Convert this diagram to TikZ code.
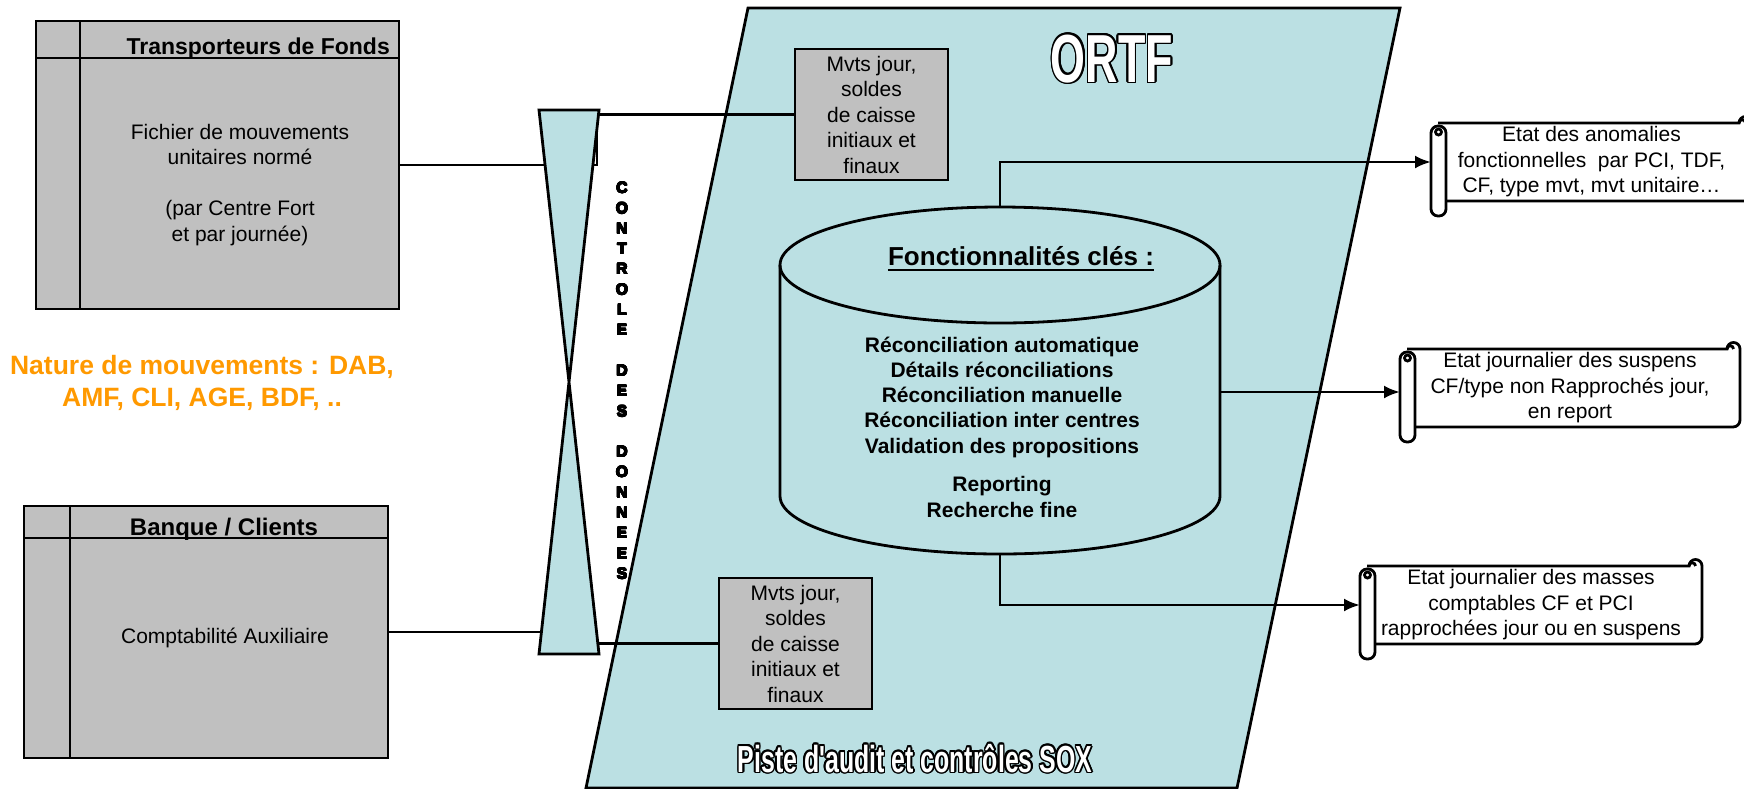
\documentclass[tikz,border=0pt]{standalone}
\usepackage{fontspec}
\setmainfont{Liberation Sans}
\newfontfamily\postfont[FakeStretch=0.66]{Liberation Sans}
\usepackage{contour}
\contourlength{1.5pt}
\usepackage{tikz}
\usetikzlibrary{calc}
\usetikzlibrary{backgrounds}
\usetikzlibrary{arrows.meta}
\tikzset{>={Latex[length=16pt,width=13pt]}}
\definecolor{ortfblue}{HTML}{BBE0E3}
\definecolor{boxgrey}{HTML}{C0C0C0}
\definecolor{natureorange}{HTML}{FF9900}

\newcommand{\bodyfont}{\fontsize{21}{25.5}\selectfont}
\newcommand{\titlefont}{\fontsize{24}{28}\selectfont\bfseries}
\newcommand{\hv}[1]{{\contourlength{0.55pt}\contour{black}{#1}}}

\tikzset{
  thickline/.style={line width=2.8pt},
  srcbox/.style={thickline, draw, fill=boxgrey, inner sep=0pt, outer sep=0pt},
  mvtsbox/.style={thickline, draw, fill=boxgrey, minimum width=153pt, minimum height=131pt,
    inner sep=0pt, outer sep=0pt, align=center, font=\bodyfont},
  bodytext/.style={align=center, inner sep=0pt, font=\bodyfont},
  titletext/.style={inner sep=0pt, font=\titlefont},
  scrolltext/.style={minimum height=78pt, inner sep=0pt, outer sep=0pt, align=center, font=\bodyfont},
}

% scroll outline drawn round a text node
\newcommand{\drawscroll}[1]{%
  \draw[thickline, fill=white] ($(#1.north west)+(7,0)$) -- ($(#1.north east)+(-13,0)$)
    arc[start angle=180, end angle=0, radius=6.5pt]
    -- ($(#1.south east)+(0,-7)$)
    arc[start angle=0, end angle=-90, radius=7pt]
    -- ($(#1.south west)+(7,0)$);
  \draw[thickline] ($(#1.north east)+(-6.5,0)$) arc[start angle=0, end angle=180, radius=3.25pt];
  \draw[thickline, fill=white, rounded corners=7pt] ($(#1.north west)+(0,3)$) rectangle ($(#1.south west)+(15,15)$);
  \draw[thickline] ($(#1.north west)+(7.5,9)$) circle[radius=3pt];
}

\begin{document}
\begin{tikzpicture}[x=1pt,y=-1pt]
\useasboundingbox (0,0) rectangle (1744,788);

% ORTF
\begin{scope}[on background layer]
  \draw[thickline, fill=ortfblue] (748,8) -- (1400,8) -- (1237,788) -- (586,788) -- cycle;
\end{scope}
\node[text=white, inner sep=0pt, anchor=base, font=\postfont\bfseries\fontsize{68}{72}\selectfont] (ortf) at (1112,82) {\contour{black}{ORTF}};
\node[text=white, inner sep=0pt, anchor=base, font=\postfont\bfseries\fontsize{37.7}{40}\selectfont] (piste) at (915,772) {\contour{black}{Piste d'audit et contrôles SOX}};

% sources
\node[srcbox, minimum width=363pt, minimum height=288pt] (tdf) at (217.5,165) {};
\draw[thickline] ([xshift=44pt]tdf.north west) -- ([xshift=44pt]tdf.south west);
\draw[thickline] ([yshift=-37pt]tdf.north west) -- ([yshift=-37pt]tdf.north east);
\node[titletext, anchor=base east, font=\fontsize{23}{28}\selectfont\bfseries] (tdftitle) at (390,54) {Transporteurs de Fonds};
\node[bodytext] (tdftext) at (240,185) {Fichier de mouvements\\unitaires normé\\[25.5pt](par Centre Fort\\et par journée)};

\node[srcbox, minimum width=364pt, minimum height=252pt] (bc) at (206,632) {};
\draw[thickline] ([xshift=46pt]bc.north west) -- ([xshift=46pt]bc.south west);
\draw[thickline] ([yshift=-32pt]bc.north west) -- ([yshift=-32pt]bc.north east);
\node[titletext, anchor=base] (bctitle) at (224,535) {Banque / Clients};
\node[bodytext, anchor=base] (bctext) at (225,643) {Comptabilité Auxiliaire};

\node[align=center, inner sep=0pt, text=natureorange, font=\fontsize{26.5}{32}\selectfont\bfseries] (nature) at (202,383) {Nature de mouvements : DAB,\\AMF, CLI, AGE, BDF, ..};

% controle des donnees
\coordinate (hgtl) at (539,110);
\coordinate (hgtr) at (599,110);
\coordinate (hgbl) at (539,654);
\coordinate (hgbr) at (599,654);
\coordinate (hgjoin) at (597,165);
\coordinate (hgjoinb) at (575,632);
\draw[thickline, fill=ortfblue] (hgtl) -- (hgtr) -- (hgbl) -- (hgbr) -- cycle;
\node[align=center, inner sep=0pt, font=\bfseries\fontsize{15.5}{20.3}\selectfont] (controle) at (622,381)
  {\hv{C}\\\hv{O}\\\hv{N}\\\hv{T}\\\hv{R}\\\hv{O}\\\hv{L}\\\hv{E}\\[20.3pt]\hv{D}\\\hv{E}\\\hv{S}\\[20.3pt]%
   \hv{D}\\\hv{O}\\\hv{N}\\\hv{N}\\\hv{E}\\\hv{E}\\\hv{S}};

\node[mvtsbox] (mvts1) at (871.5,114.5) {Mvts jour,\\soldes\\de caisse\\initiaux et\\finaux};
\node[mvtsbox] (mvts2) at (795.5,643.5) {Mvts jour,\\soldes\\de caisse\\initiaux et\\finaux};

% fonctionnalites
\draw[thickline, fill=ortfblue] (780,265) -- (780,496)
  arc[start angle=180, end angle=360, x radius=220pt, y radius=58pt] -- (1220,265)
  arc[start angle=0, end angle=180, x radius=220pt, y radius=58pt] -- cycle;
\draw[thickline] (780,265) arc[start angle=180, end angle=360, x radius=220pt, y radius=58pt];
\coordinate (cyltop) at (1000,207);
\coordinate (cylright) at (1220,392);
\coordinate (cylbot) at (1000,554);
\node[inner sep=0pt, anchor=base, font=\fontsize{26}{30}\selectfont\bfseries] (fonctitle) at (1021,265) {Fonctionnalités clés :};
\draw[line width=2.2pt] ([yshift=-5pt]fonctitle.base west) -- ([yshift=-5pt]fonctitle.base east);
\node[align=center, inner sep=0pt, font=\fontsize{21}{25.25}\selectfont\bfseries] (fonc) at (1002,427)
  {Réconciliation automatique\\Détails réconciliations\\Réconciliation manuelle\\Réconciliation inter centres\\Validation des propositions\\[13.5pt]Reporting\\Recherche fine};

% etats
\node[scrolltext, minimum width=321pt] (etat1) at (1591.5,162) {Etat des anomalies\\fonctionnelles\ \ par PCI, TDF,\\CF, type mvt, mvt unitaire…};
\node[scrolltext, minimum width=340pt] (etat2) at (1570,388) {Etat journalier des suspens\\CF/type non Rapprochés jour,\\en report};
\node[scrolltext, minimum width=342pt] (etat3) at (1531,605) {Etat journalier des masses\\comptables CF et PCI\\rapprochées jour ou en suspens};

\begin{scope}[on background layer]
  \draw[thickline] (tdf.east) -- (hgjoin) |- (mvts1.west);
  \draw[thickline] (bc.east) -- (hgjoinb) |- (mvts2.west);
  \draw[thickline, ->] (cyltop) |- (etat1.west);
  \draw[thickline, ->] (cylright) -- (cylright -| etat2.west);
  \draw[thickline, ->] (cylbot) |- (etat3.west);
  \drawscroll{etat1}
  \drawscroll{etat2}
  \drawscroll{etat3}
\end{scope}
\end{tikzpicture}
\end{document}
